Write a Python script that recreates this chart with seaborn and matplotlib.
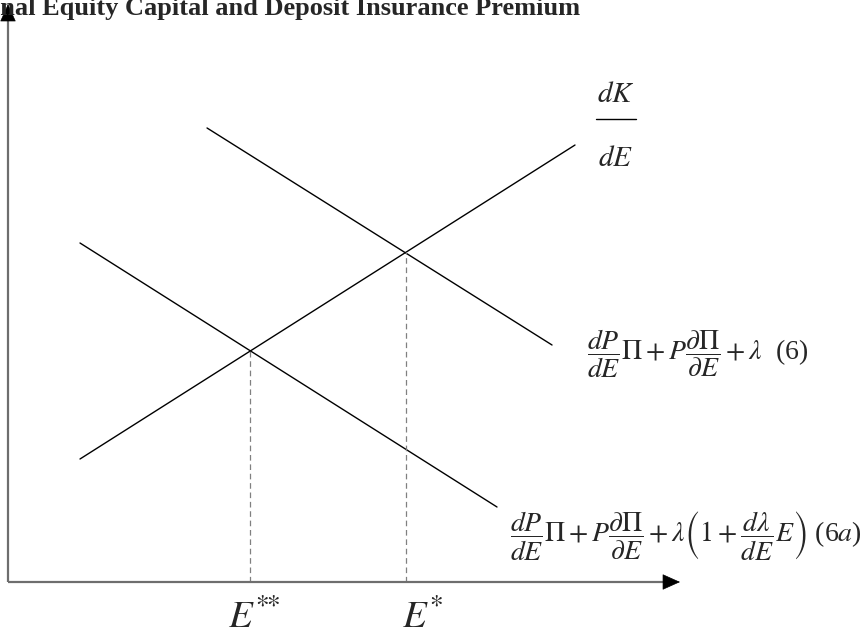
import numpy as np
import pandas as pd
import matplotlib
matplotlib.use("Agg")
import matplotlib.pyplot as plt
import seaborn as sns

# diagram units (origin at the corner of the two axes)
curve_names = ["dK/dE", "(6)", "(6a)"]
curve_E = [[1.2, 9.45], [3.317, 9.067], [1.2, 8.15]]
curve_val = [[2.05, 7.283], [7.567, 3.95], [5.65, 1.25]]
E_marks = [4.033, 6.633]
E_labels = [r"$E^{*\!\!*}$", r"$E^{*}$"]
axis_E_max = 11.2
axis_val_max = 9.633

title = "Additional Equity Capital and Deposit Insurance Premium"
lbl_dK_num, lbl_dK_den = r"$dK$", r"$dE$"
lbl_6 = r"$\dfrac{dP}{dE}\Pi+P\dfrac{\partial\Pi}{\partial E}+\lambda$  (6)"
lbl_6a = (r"$\dfrac{dP}{dE}\Pi+P\dfrac{\partial\Pi}{\partial E}"
          r"+\lambda\left(1+\dfrac{d\lambda}{dE}E\right)$ (6$a$)")

sns.set_theme(style="white")
plt.rcParams["font.family"] = ["Liberation Serif", "DejaVu Serif"]
plt.rcParams["mathtext.fontset"] = "stix"

px = 60.0  # pixels per diagram unit
fig = plt.figure(figsize=(8.64, 6.36), dpi=100)
ax = fig.add_axes([0, 0, 1, 1])
ax.set_xlim(-8 / px, 856 / px)
ax.set_ylim(-54 / px, 582 / px)
ax.axis("off")

rows = []
for name, xs, ys in zip(curve_names, curve_E, curve_val):
    for x, y in zip(xs, ys):
        rows.append({"curve": name, "E": x, "value": y})
df = pd.DataFrame(rows)
sns.lineplot(data=df, x="E", y="value", units="curve", estimator=None,
             sort=False, color="black", lw=1.0, ax=ax, legend=False)

# dashed drop lines from the equilibria down to the E axis
heights = np.interp(E_marks, curve_E[0], curve_val[0])
ax.vlines(E_marks, 0, heights, colors="#808080", lw=0.9,
          linestyles=(0, (4.5, 3)))

# axes with arrow heads
grey = "#6e6e6e"
head = 16 / px
ax.plot([0, axis_E_max - head], [0, 0], color=grey, lw=1.6, solid_capstyle="butt")
ax.plot([0, 0], [0, axis_val_max - head], color=grey, lw=1.6, solid_capstyle="butt")
arrow = dict(arrowstyle="-|>,head_length=0.58,head_width=0.26", color="black",
             shrinkA=0, shrinkB=0, mutation_scale=20, lw=0.5)
ax.annotate("", xy=(axis_E_max, 0), xytext=(axis_E_max - head, 0), arrowprops=arrow)
ax.annotate("", xy=(0, axis_val_max), xytext=(0, axis_val_max - head), arrowprops=arrow)

# dK/dE label, set as a tall fraction
dk_x, dk_bar = 10.133, 7.717
ax.text(dk_x, dk_bar + 11 / px, lbl_dK_num, ha="center", va="bottom", fontsize=21)
ax.text(dk_x, dk_bar - 27 / px, lbl_dK_den, ha="center", va="top", fontsize=21)
ax.plot([dk_x - 20 / px, dk_x + 20 / px], [dk_bar, dk_bar], color="black", lw=1.0)

ax.text(9.65, 3.8, lbl_6, ha="left", va="center", fontsize=20)
ax.text(8.367, 0.78, lbl_6a, ha="left", va="center", fontsize=20)
ax.text(E_marks[0] - 0.37, -0.77, E_labels[0], ha="left", va="baseline", fontsize=28)
ax.text(E_marks[1] - 0.07, -0.77, E_labels[1], ha="left", va="baseline", fontsize=28)

fig.text(580 / 864, 1 - 15 / 636, title, ha="right", va="baseline",
         fontsize=19, fontweight="bold")

fig.savefig("out.png", dpi=100)
